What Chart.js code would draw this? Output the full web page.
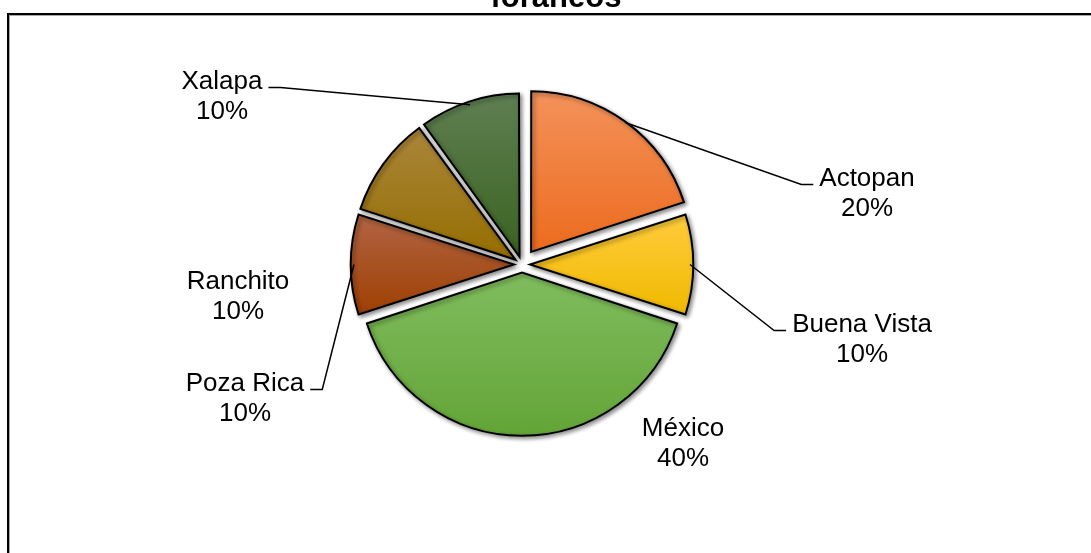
<!DOCTYPE html>
<html>
<head>
<meta charset="utf-8">
<script src="https://cdn.jsdelivr.net/npm/chart.js@4/dist/chart.umd.min.js"></script>
<style>
	html, body { margin: 0; padding: 0; background: #fff; overflow: hidden; }
	canvas { display: block; }
</style>
</head>
<body>
<canvas id="pie" width="1091" height="553"></canvas>
<script>
// data
const categories = ['Actopan', 'Buena Vista', 'México', 'Poza Rica', 'Ranchito', 'Xalapa'];
const shares = [20, 10, 40, 10, 10, 10];
const titleText = 'foráneos';

// lighter top / darker bottom of each slice gradient
const topColors = ['#F3925A', '#FFCC3C', '#80BC5E', '#B16444', '#AA853A', '#5E7E50'];
const bottomColors = ['#EC6B1E', '#F0B900', '#64A538', '#9F4002', '#956E00', '#3B6322'];

const pieRadius = 160;
// Actopan is pulled out a bit further than the rest
const explode = [62, 32, 32, 32, 32, 32];

// where each label sits: centre x / first baseline, in px from the pie centre
const labelPlacement = [
	{ dx: 345, dy: -79, leader: true },
	{ dx: 340, dy: 67, leader: true },
	{ dx: 161, dy: 171, leader: false },
	{ dx: -277, dy: 126, leader: true },
	{ dx: -284, dy: 24, leader: false },
	{ dx: -300, dy: -176, leader: true }
];

const total = shares.reduce((a, b) => a + b, 0);

const sliceGradient = c => {
	const i = c.dataIndex;
	const area = c.chart.chartArea;
	if (!area) return bottomColors[i];
	const cx = (area.left + area.right) / 2;
	const cy = (area.top + area.bottom) / 2;
	let before = 0;
	for (let k = 0; k < i; k++) before += shares[k];
	const a0 = -Math.PI / 2 + 2 * Math.PI * before / total;
	const a1 = a0 + 2 * Math.PI * shares[i] / total;
	let ymin = cy, ymax = cy;
	for (let s = 0; s <= 24; s++) {
		const a = a0 + (a1 - a0) * s / 24;
		const y = cy + Math.sin(a) * pieRadius;
		ymin = Math.min(ymin, y);
		ymax = Math.max(ymax, y);
	}
	const g = c.chart.ctx.createLinearGradient(0, ymin, 0, ymax);
	g.addColorStop(0, topColors[i]);
	g.addColorStop(1, bottomColors[i]);
	return g;
};

// frame + cut-off title
const framePlugin = {
	id: 'frame',
	beforeDraw(chart) {
		const ctx = chart.ctx;
		ctx.save();
		ctx.fillStyle = '#000';
		ctx.fillRect(7, 13, chart.width - 7, 2);
		ctx.fillRect(7, 13, 2, chart.height - 13);
		ctx.fillStyle = '#a6a6a6';
		ctx.fillRect(9, 15, chart.width - 9, 1);
		ctx.fillRect(9, 15, 1, chart.height - 15);
		ctx.fillStyle = '#000';
		ctx.font = 'bold 31px "Liberation Sans", Arial, sans-serif';
		ctx.textAlign = 'center';
		ctx.textBaseline = 'alphabetic';
		ctx.fillText(titleText, 556, 6.5);
		ctx.restore();
	}
};

// soft shadow under the slices
const shadowPlugin = {
	id: 'sliceShadow',
	beforeDatasetsDraw(chart) {
		const ctx = chart.ctx;
		ctx.save();
		ctx.shadowColor = 'rgba(0,0,0,0.45)';
		ctx.shadowBlur = 4;
		ctx.shadowOffsetX = 2;
		ctx.shadowOffsetY = 2;
	},
	afterDatasetsDraw(chart) {
		chart.ctx.restore();
	}
};

const labelPlugin = {
	id: 'sliceLabels',
	afterDatasetsDraw(chart) {
		const ctx = chart.ctx;
		const arcs = chart.getDatasetMeta(0).data;
		ctx.save();
		ctx.font = '26px "Liberation Sans", Arial, sans-serif';
		ctx.fillStyle = '#000';
		ctx.strokeStyle = '#000';
		ctx.lineWidth = 1.5;
		ctx.textAlign = 'center';
		ctx.textBaseline = 'alphabetic';
		arcs.forEach((arc, i) => {
			const p = labelPlacement[i];
			const lx = arc.x + p.dx;
			const ly = arc.y + p.dy;
			const name = categories[i];
			const pct = Math.round(shares[i] / total * 100) + '%';
			ctx.fillText(name, lx, ly);
			ctx.fillText(pct, lx, ly + 30);
			if (p.leader) {
				const mid = (arc.startAngle + arc.endAngle) / 2;
				const shift = (arc.options.offset || 0) / 4;
				const r = arc.outerRadius + shift;
				const ax = arc.x + Math.cos(mid) * r;
				const ay = arc.y + Math.sin(mid) * r;
				const half = ctx.measureText(name).width / 2;
				let t0, t1;
				if (p.dx > 0) {
					t0 = lx - half - 18;
					t1 = lx - half - 6;
				} else {
					t0 = lx + half + 18;
					t1 = lx + half + 6;
				}
				ctx.beginPath();
				ctx.moveTo(ax, ay);
				ctx.lineTo(t0, ly - 1);
				ctx.lineTo(t1, ly - 1);
				ctx.stroke();
			}
		});
		ctx.restore();
	}
};

new Chart(document.getElementById('pie'), {
	type: 'pie',
	data: {
		labels: categories,
		datasets: [{
			data: shares,
			backgroundColor: sliceGradient,
			borderColor: '#000',
			borderWidth: 2,
			borderJoinStyle: 'miter',
			offset: explode
		}]
	},
	options: {
		responsive: false,
		animation: false,
		devicePixelRatio: 1,
		events: [],
		radius: pieRadius,
		layout: { padding: { left: 0, top: 0, right: 47, bottom: 24 } },
		plugins: {
			legend: { display: false },
			title: { display: false },
			tooltip: { enabled: false }
		}
	},
	plugins: [framePlugin, shadowPlugin, labelPlugin]
});
</script>
</body>
</html>
